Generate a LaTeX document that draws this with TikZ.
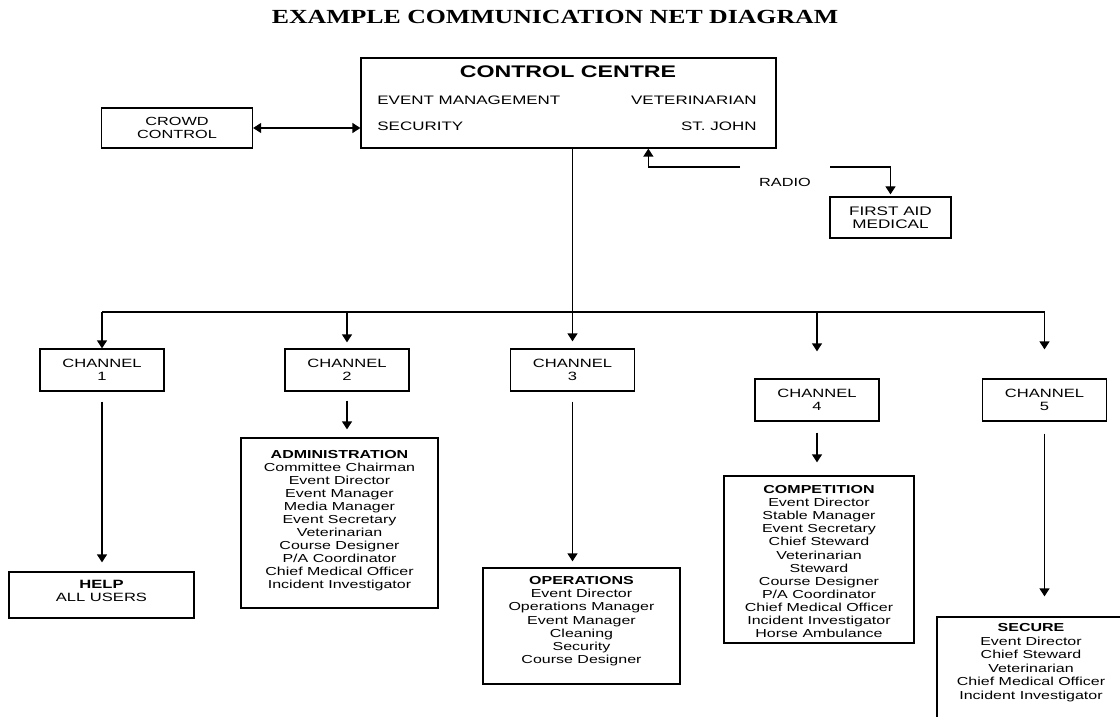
\documentclass[tikz,border=0pt]{standalone}
\usepackage{fontspec}
\setmainfont{Liberation Sans}[FakeStretch=1.38]
\newfontfamily\titlefont{Liberation Serif}[FakeStretch=1.29]
\usetikzlibrary{arrows.meta}
\tikzset{
	box/.style={draw, line width=0.65pt, inner sep=0pt},
	chbox/.style={box, minimum width=62pt, minimum height=21pt, align=center, font=\fontsize{6}{6.5}\selectfont},
	txt/.style={inner sep=0pt, font=\fontsize{5.9}{6.6}\selectfont},
	cctxt/.style={inner sep=0pt, font=\fontsize{6.15}{7}\selectfont},
	listtxt/.style={inner sep=0pt, align=center, anchor=north},
	link/.style={line width=0.65pt},
	tip/.tip={Triangle[length=4pt,width=5pt]},
	arr/.style={link, -tip},
}

\begin{document}
\begin{tikzpicture}[x=0.5pt, y=-0.5pt]
			%%%%% START %%%%%
			\fill[white] (0,0) rectangle (1120,717);
			\useasboundingbox (0,0) rectangle (1120,717);
			
			\node[font=\titlefont\fontsize{10}{12}\selectfont\bfseries] (title) at (555,17) {EXAMPLE COMMUNICATION NET DIAGRAM};
			
			% control centre
			\node[box, minimum width=207.5pt, minimum height=45pt] (cc) at (568.5,103) {};
			\node[inner sep=0pt, font=\fontsize{8.4}{10}\selectfont\bfseries] (cctitle) at (568,72) {CONTROL CENTRE};
			\node[cctxt, anchor=west] (ccevent) at (377,100) {EVENT MANAGEMENT};
			\node[cctxt, anchor=east] (ccvet) at (757,100) {VETERINARIAN};
			\node[cctxt, anchor=west] (ccsec) at (377,126) {SECURITY};
			\node[cctxt, anchor=east] (ccstj) at (757,126) {ST. JOHN};
			
			\node[box, txt, minimum width=75.5pt, minimum height=20pt, align=center] (crowd) at (177,128) {CROWD\\CONTROL};
			\draw[link, tip-tip] (crowd.east) -- (crowd.east -| cc.west);
			
			% radio
			\node[txt] (radio) at (785,182) {RADIO};
			\coordinate (radioL) at (740,167);
			\coordinate (radioR) at (830,167);
			\node[box, minimum width=60.5pt, minimum height=20.5pt, align=center, font=\fontsize{6.2}{6.6}\selectfont] (aid) at (890.5,217.5) {FIRST AID\\MEDICAL};
			\draw[arr] (radioL) -| ([xshift=144pt]cc.south west);
			\draw[arr, shorten >=1pt] (radioR) -| (aid.north);
			
			% channels
			\node[chbox] (ch1) at (102,370) {CHANNEL\\1};
			\node[chbox] (ch2) at (347,370) {CHANNEL\\2};
			\node[chbox] (ch3) at (572.5,370) {CHANNEL\\3};
			\node[chbox] (ch4) at (817,400) {CHANNEL\\4};
			\node[chbox] (ch5) at (1044.5,400) {CHANNEL\\5};
			
			\coordinate (bus) at (0,312);
			\draw[link] (ch1.north |- bus) -- (ch5.north |- bus);
			\draw[arr, shorten >=3.5pt] (ch3.north |- cc.south) -- (ch3.north);
			\draw[arr] (ch1.north |- bus) -- (ch1.north);
			\draw[arr, shorten >=3pt] (ch2.north |- bus) -- (ch2.north);
			\draw[arr, shorten >=13.5pt] (ch4.north |- bus) -- (ch4.north);
			\draw[arr, shorten >=14.5pt] (ch5.north |- bus) -- (ch5.north);
			
			% user groups
			\node[box, minimum width=92.5pt, minimum height=23pt] (help) at (101.5,595) {};
			\node[listtxt, font=\fontsize{6}{6.5}\selectfont] (helptxt) at (101.5,580) {\textbf{HELP}\\ALL USERS};
			
			\node[box, minimum width=98.5pt, minimum height=85pt] (admin) at (339.5,523) {};
			\node[listtxt, font=\fontsize{5.8}{6.5}\selectfont] (admintxt) at (339.5,450) {\textbf{ADMINISTRATION}\\Committee Chairman\\Event Director\\Event Manager\\Media Manager\\Event Secretary\\Veterinarian\\Course Designer\\P/A Coordinator\\Chief Medical Officer\\Incident Investigator};
			
			\node[box, minimum width=98.5pt, minimum height=58pt] (ops) at (581.5,626) {};
			\node[listtxt, font=\fontsize{5.8}{6.6}\selectfont] (opstxt) at (581.5,576) {\textbf{OPERATIONS}\\Event Director\\Operations Manager\\Event Manager\\Cleaning\\Security\\Course Designer};
			
			\node[box, minimum width=95pt, minimum height=83.5pt] (comp) at (819,559.5) {};
			\node[listtxt, font=\fontsize{5.8}{6.55}\selectfont] (comptxt) at (819,485) {\textbf{COMPETITION}\\Event Director\\Stable Manager\\Event Secretary\\Chief Steward\\Veterinarian\\Steward\\Course Designer\\P/A Coordinator\\Chief Medical Officer\\Incident Investigator\\Horse Ambulance};
			
			\node[box, minimum width=94pt, minimum height=54pt] (secure) at (1031,671) {};
			\node[listtxt, font=\fontsize{5.8}{6.75}\selectfont] (securetxt) at (1031,623) {\textbf{SECURE}\\Event Director\\Chief Steward\\Veterinarian\\Chief Medical Officer\\Incident Investigator};
			
			\draw[arr, shorten <=5pt, shorten >=4.5pt] (ch1.south) -- (ch1.south |- help.north);
			\draw[arr, shorten <=4.5pt, shorten >=4pt] (ch2.south) -- (ch2.south |- admin.north);
			\draw[arr, shorten <=5pt, shorten >=3pt] (ch3.south) -- (ch3.south |- ops.north);
			\draw[arr, shorten <=5.5pt, shorten >=6.5pt] (ch4.south) -- (ch4.south |- comp.north);
			\draw[arr, shorten <=6pt, shorten >=10pt] (ch5.south) -- (ch5.south |- secure.north);
			%%%%% END %%%%%
\end{tikzpicture}
\end{document}
